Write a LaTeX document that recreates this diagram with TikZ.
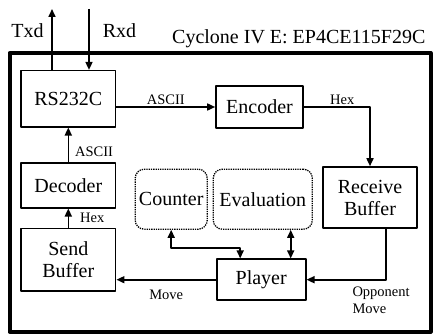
\documentclass[tikz,border=0pt]{standalone}
\usepackage{fontspec}
\setmainfont{Liberation Serif}
\usetikzlibrary{arrows.meta}
\begin{document}
\begin{tikzpicture}[x=1pt, y=-1pt, line join=round,
  blk/.style={draw, line width=1.6pt, inner sep=0pt, align=center, font=\fontsize{20}{22}\selectfont},
  soft/.style={draw, densely dotted, line width=1.3pt, rounded corners=9pt, inner sep=0pt, font=\fontsize{20}{22}\selectfont},
  big/.style={font=\fontsize{20}{22}\selectfont, inner sep=0pt},
  lbl/.style={font=\fontsize{14.5}{17}\selectfont, inner sep=2pt},
  conn/.style={line width=1.6pt, -{Triangle[length=8pt,width=7pt]}},
  both/.style={line width=1.6pt, {Triangle[length=8pt,width=7pt]}-{Triangle[length=8pt,width=7pt]}}]
\useasboundingbox (0,0) rectangle (435,334);
\draw[line width=4pt] (9.5,53) rectangle (430.5,331.5);
\node[big, anchor=base]      (txdl) at (27.5,37.5) {Txd};
\node[big, anchor=base]      (rxdl) at (119.5,37.5) {Rxd};
\node[big, anchor=base west] (chip) at (172,43.5) {Cyclone IV E: EP4CE115F29C};
\node[blk, minimum width=94.7pt, minimum height=56pt]   (rs)   at (68.3,98.7)  {RS232C};
\node[blk, minimum width=87pt,   minimum height=42pt]   (enc)  at (259.5,107)  {Encoder};
\node[blk, minimum width=94pt,   minimum height=61pt]   (recv) at (370,197.5)  {Receive\\Buffer};
\node[blk, minimum width=94.7pt, minimum height=45pt]   (dec)  at (68.3,185.2) {Decoder};
\node[blk, minimum width=94.7pt, minimum height=62.7pt] (send) at (68.3,259.7) {Send\\Buffer};
\node[soft, minimum width=72pt,  minimum height=60pt]   (cnt)  at (171.2,199.2) {Counter};
\node[soft, minimum width=99pt,  minimum height=60pt]   (eval) at (262.8,199.2) {Evaluation};
\node[blk, minimum width=89pt,   minimum height=41pt]   (play) at (261.2,279.7) {Player};
\coordinate (txd) at (52,9);
\coordinate (rxd) at (89,9);
\draw[conn] (rs.north -| txd) -- (txd);
\draw[conn] (rxd) -- (rs.north -| rxd);
\draw[conn] (rs.east |- enc.west) -- (enc.west) node[lbl, midway, above] {ASCII};
\draw[conn] (enc.east) -| (recv.north) node[lbl, pos=0.29, above] {Hex};
\draw[conn] ([xshift=15.7pt]recv.south) |- (play.east)
  node[lbl, pos=0.5, anchor=north west, align=left, inner sep=0pt, xshift=-34pt, yshift=-6pt] {Opponent\\Move};
\draw[conn] (play.west) -- (play.west -| send.east) node[lbl, midway, below=8pt] {Move};
\draw[conn] (send.north) -- (dec.south) node[lbl, midway, right=9pt] {Hex};
\draw[conn] (dec.north) -- (rs.south) node[lbl, pos=0.28, right=4pt] {ASCII};
\draw[both] (cnt.south) -- ++(0,18) -| ([xshift=-21pt]play.north);
\draw[both] ([xshift=29.5pt]play.north) -- ([xshift=29.5pt]play.north |- eval.south);
\end{tikzpicture}
\end{document}
